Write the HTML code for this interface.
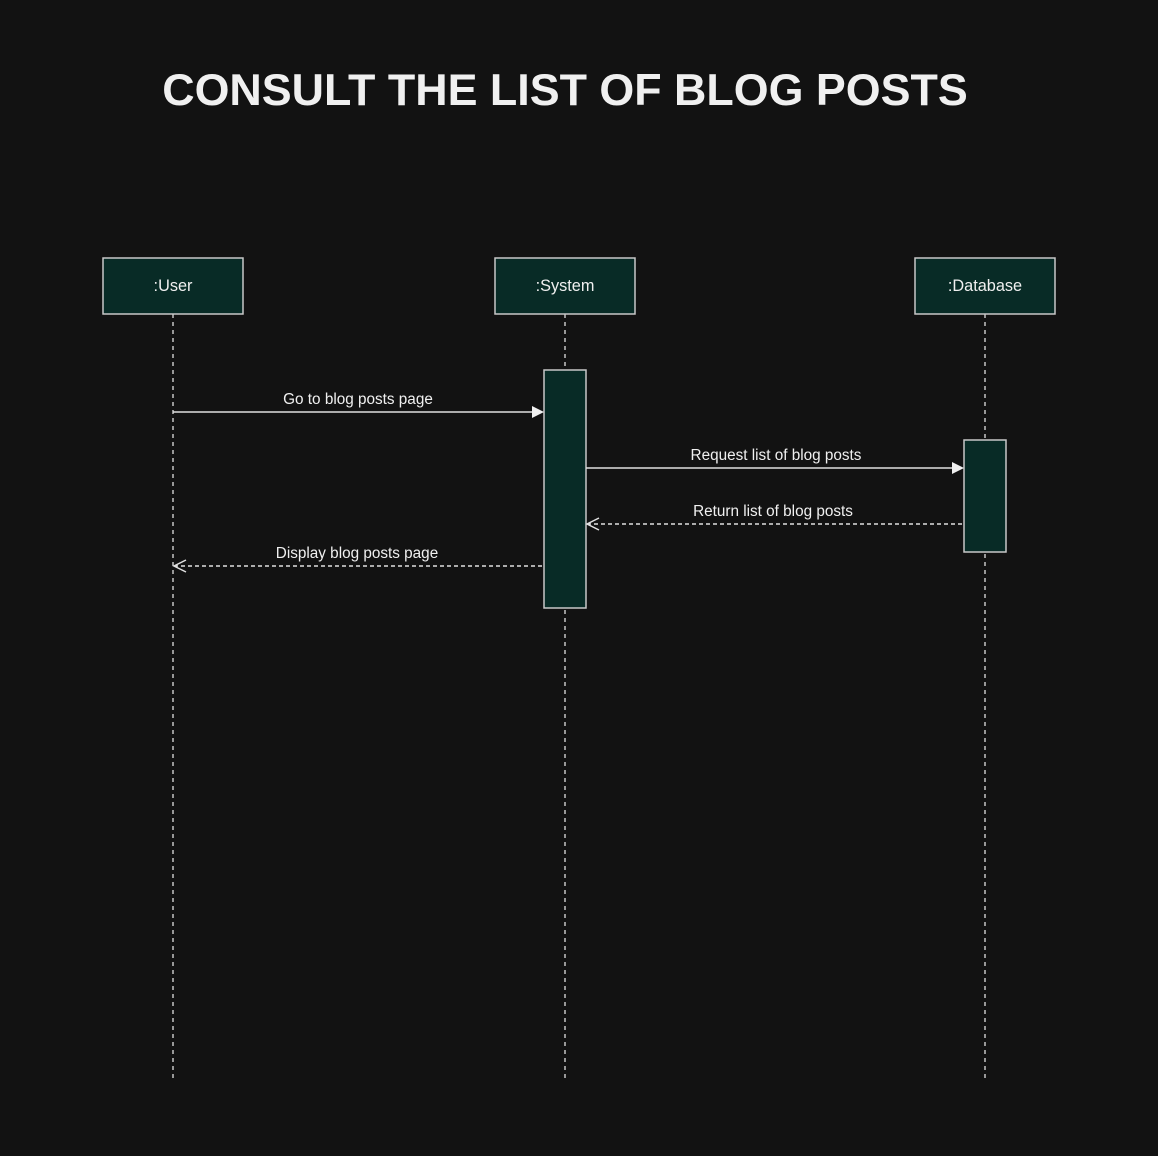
<!DOCTYPE html>
<html><head><meta charset="utf-8"><style>
html,body{margin:0;padding:0;background:#121212;}
</style></head><body>
<svg width="1158" height="1156" xmlns="http://www.w3.org/2000/svg" style="display:block">
<rect width="1158" height="1156" fill="#121212"/>
<text x="565" y="105" text-anchor="middle" font-family="Liberation Sans, sans-serif" font-weight="bold" font-size="44.8" fill="#f0f0f0">CONSULT THE LIST OF BLOG POSTS</text>
<g stroke="#e0e0e0" stroke-width="1.3" stroke-dasharray="4,4" fill="none">
<line x1="173" y1="314" x2="173" y2="1082"/>
<line x1="565" y1="314" x2="565" y2="1082"/>
<line x1="985" y1="314" x2="985" y2="1082"/>
</g>
<g fill="#082b26" stroke="#c8c8c8" stroke-width="1.5">
<rect x="103" y="258" width="140" height="56"/>
<rect x="495" y="258" width="140" height="56"/>
<rect x="915" y="258" width="140" height="56"/>
<rect x="544" y="370" width="42" height="238"/>
<rect x="964" y="440" width="42" height="112"/>
</g>
<g font-family="Liberation Sans, sans-serif" font-size="16.3" fill="#f0f0f0" text-anchor="middle">
<text x="173" y="291">:User</text>
<text x="565" y="291">:System</text>
<text x="985" y="291">:Database</text>
</g>
<g font-family="Liberation Sans, sans-serif" font-size="15.3" fill="#f0f0f0" text-anchor="middle">
<text x="358" y="404">Go to blog posts page</text>
<text x="776" y="460">Request list of blog posts</text>
<text x="773" y="516">Return list of blog posts</text>
<text x="357" y="558">Display blog posts page</text>
</g>
<g stroke="#e0e0e0" stroke-width="1.5" fill="none">
<line x1="173" y1="412" x2="533" y2="412"/>
<line x1="586" y1="468" x2="953" y2="468"/>
<line x1="962" y1="524" x2="588" y2="524" stroke-dasharray="4,3"/>
<polyline points="599,518 587,524 599,530"/>
<line x1="542" y1="566" x2="175" y2="566" stroke-dasharray="4,3"/>
<polyline points="186,560 174,566 186,572"/>
</g>
<polygon points="532,406 544,412 532,418" fill="#f0f0f0"/>
<polygon points="952,462 964,468 952,474" fill="#f0f0f0"/>
</svg>
</body></html>
